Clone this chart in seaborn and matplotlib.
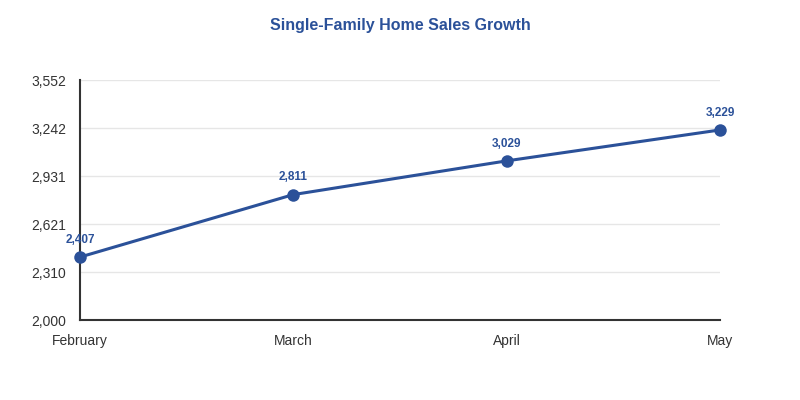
import pandas as pd
import matplotlib.pyplot as plt
import seaborn as sns

# --- Data ---
months = ["February", "March", "April", "May"]
sales = [2407, 2811, 3029, 3229]
y_ticks = [2000, 2310.4, 2620.8, 2931.2, 3241.6, 3552]
y_tick_labels = ["2,000", "2,310", "2,621", "2,931", "3,242", "3,552"]

df = pd.DataFrame({"month": months, "sales": sales})
df["pos"] = range(len(df))

blue = "#2b5199"

sns.set_style("white")
plt.rcParams["font.family"] = ["Liberation Sans", "DejaVu Sans"]

fig = plt.figure(figsize=(8, 4), dpi=100)
ax = fig.add_axes([0.1, 0.2, 0.8, 0.6])

sns.lineplot(data=df, x="pos", y="sales", color=blue, linewidth=2.2,
             marker="o", markersize=9, markeredgewidth=0, ax=ax, zorder=3,
             clip_on=False)

# value labels
for x, v in zip(df["pos"], df["sales"]):
    ax.annotate(f"{v:,}", (x, v), xytext=(0, 8), textcoords="offset points",
                ha="center", va="bottom", color=blue, fontsize=8.5,
                fontweight="bold")

ax.set_xlim(0, 3)
ax.set_ylim(2000, 3552)
ax.set_xticks(df["pos"])
ax.set_xticklabels(months)
ax.set_yticks(y_ticks)
ax.set_yticklabels(y_tick_labels)
ax.tick_params(axis="both", labelsize=10, colors="#333333", length=0, pad=10)
ax.tick_params(axis="x", pad=10)
ax.yaxis.grid(True, color="#e6e6e6", linewidth=1)
ax.set_axisbelow(True)
ax.set_xlabel("")
ax.set_ylabel("")

for side in ["top", "right"]:
    ax.spines[side].set_visible(False)
for side in ["left", "bottom"]:
    ax.spines[side].set_color("#333333")
    ax.spines[side].set_linewidth(1.5)

fig.suptitle("Single-Family Home Sales Growth", y=0.955, fontsize=11.5,
             fontweight="bold", color=blue)

fig.savefig("out.png", dpi=100)
